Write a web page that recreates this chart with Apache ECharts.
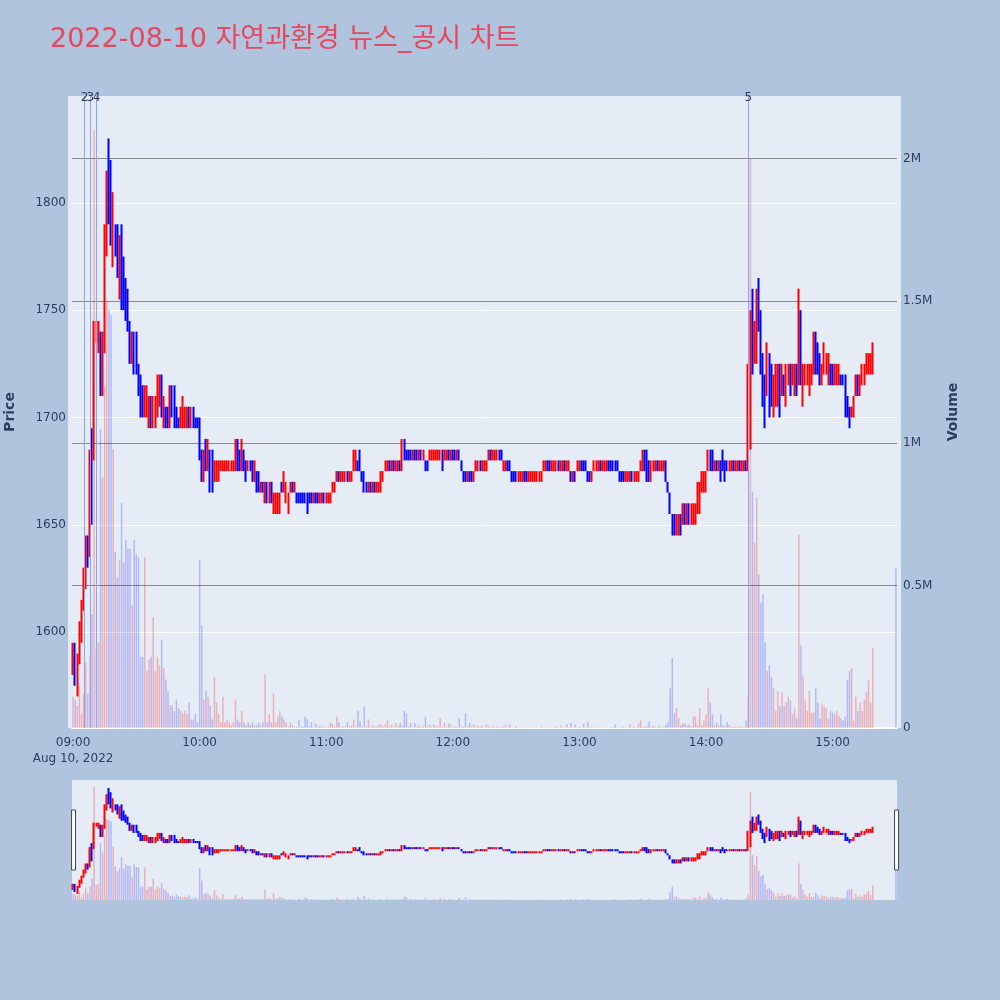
<!DOCTYPE html>
<html>
<head>
<meta charset="utf-8">
<script src="https://cdn.jsdelivr.net/npm/echarts@6/dist/echarts.min.js"></script>
<style>
html,body{margin:0;padding:0;background:#B0C4DE;}
#chart{width:1000px;height:1000px;}
</style>
</head>
<body>
<div id="chart"></div>
<script>
// ---- DATA (minutes after 09:00, 2022-08-10) ----
const minutes = [];
for (let i = 0; i < 380; i++) minutes.push(i);
minutes.push(390);

const opens = [
1585,1595,1575,1590,1600,1615,1625,1645,1640,1695,
1685,1740,1735,1740,1730,1735,1785,1820,1820,1780,
1790,1785,1765,1790,1770,1765,1755,1745,1730,1740,
1735,1725,1715,1710,1700,1705,1700,1705,1695,1700,
1705,1710,1715,1700,1705,1705,1700,1715,1710,1700,
1700,1695,1700,1700,1695,1705,1695,1705,1700,1700,
1700,1680,1670,1690,1680,1685,1680,1670,1675,1675,
1675,1675,1675,1675,1675,1675,1675,1680,1690,1685,
1675,1685,1680,1675,1680,1680,1670,1675,1670,1665,
1670,1660,1665,1660,1670,1655,1660,1660,1660,1670,
1665,1660,1660,1665,1670,1665,1665,1665,1665,1665,
1665,1665,1665,1665,1660,1665,1665,1660,1660,1665,
1660,1660,1660,1665,1665,1670,1675,1670,1670,1670,
1675,1670,1670,1675,1675,1680,1685,1675,1675,1670,
1665,1670,1665,1670,1665,1665,1665,1670,1675,1675,
1680,1675,1680,1675,1675,1680,1680,1690,1685,1685,
1685,1680,1685,1685,1680,1685,1680,1680,1680,1680,
1680,1680,1680,1680,1680,1685,1680,1680,1685,1680,
1685,1685,1680,1685,1680,1675,1675,1670,1675,1675,
1670,1675,1675,1680,1675,1675,1675,1680,1685,1680,
1680,1680,1685,1685,1675,1675,1680,1680,1675,1675,
1675,1670,1670,1670,1675,1675,1670,1670,1670,1670,
1670,1670,1670,1675,1675,1680,1680,1675,1675,1675,
1680,1675,1675,1680,1675,1675,1675,1670,1675,1675,
1675,1680,1680,1680,1675,1675,1670,1675,1675,1675,
1680,1675,1675,1675,1680,1680,1680,1680,1680,1675,
1675,1675,1670,1670,1670,1675,1670,1670,1670,1675,
1675,1685,1680,1680,1675,1675,1675,1680,1675,1675,
1675,1680,1670,1665,1655,1650,1645,1645,1655,1650,
1660,1650,1660,1650,1650,1650,1655,1660,1665,1665,
1670,1675,1685,1680,1675,1680,1675,1680,1685,1680,
1680,1675,1675,1680,1675,1675,1680,1675,1675,1680,
1675,1690,1760,1725,1725,1760,1750,1730,1720,1710,
1730,1720,1705,1710,1715,1725,1710,1720,1710,1715,
1725,1715,1715,1725,1715,1750,1715,1715,1715,1715,
1715,1720,1740,1735,1730,1715,1720,1720,1720,1725,
1725,1715,1715,1715,1720,1720,1720,1710,1705,1700,
1700,1710,1715,1710,1715,1720,1720,1725,1720,1720,
1730];
const closes = [
1590,1580,1590,1600,1615,1625,1640,1635,1680,1655,
1740,1745,1745,1715,1735,1785,1810,1790,1780,1805,
1780,1770,1785,1765,1760,1750,1745,1735,1740,1725,
1725,1710,1705,1705,1715,1710,1710,1695,1705,1710,
1715,1720,1705,1705,1695,1695,1710,1705,1700,1695,
1695,1705,1705,1705,1705,1700,1705,1695,1695,1695,
1680,1670,1680,1680,1685,1670,1670,1675,1680,1680,
1680,1680,1680,1680,1680,1680,1680,1685,1680,1675,
1685,1680,1675,1680,1675,1670,1675,1670,1665,1670,
1665,1665,1660,1665,1660,1665,1665,1665,1665,1665,
1670,1665,1665,1670,1665,1670,1660,1660,1660,1660,
1660,1660,1660,1660,1665,1660,1660,1665,1665,1660,
1665,1665,1665,1670,1670,1675,1670,1675,1675,1675,
1670,1675,1675,1680,1680,1675,1675,1670,1665,1665,
1670,1665,1670,1665,1670,1670,1675,1675,1680,1680,
1675,1680,1675,1680,1680,1675,1690,1680,1680,1680,
1680,1685,1680,1680,1685,1680,1685,1675,1675,1685,
1685,1685,1685,1685,1685,1680,1685,1685,1680,1685,
1680,1680,1685,1680,1675,1670,1670,1675,1670,1670,
1675,1680,1680,1675,1680,1680,1680,1685,1680,1685,
1685,1685,1680,1680,1680,1680,1675,1675,1670,1670,
1670,1675,1675,1675,1670,1670,1675,1675,1675,1675,
1675,1675,1675,1680,1680,1675,1675,1680,1680,1680,
1675,1680,1680,1675,1680,1680,1670,1675,1670,1680,
1680,1675,1675,1675,1670,1670,1675,1680,1680,1680,
1675,1680,1680,1680,1675,1675,1675,1675,1675,1670,
1670,1670,1675,1675,1675,1670,1675,1675,1675,1680,
1685,1680,1675,1670,1680,1680,1680,1675,1680,1680,
1680,1670,1665,1655,1645,1645,1655,1655,1650,1660,
1650,1660,1655,1660,1655,1660,1665,1665,1675,1675,
1675,1685,1675,1675,1680,1675,1680,1675,1675,1675,
1675,1680,1680,1675,1680,1680,1675,1680,1680,1675,
1725,1750,1725,1745,1755,1740,1725,1710,1705,1735,
1710,1710,1720,1725,1720,1710,1720,1710,1720,1725,
1715,1725,1720,1715,1750,1715,1725,1725,1725,1725,
1725,1740,1725,1725,1715,1725,1735,1730,1725,1715,
1715,1725,1725,1725,1715,1715,1710,1700,1700,1705,
1710,1715,1710,1720,1725,1725,1730,1730,1730,1730,
1730];
const lows = [
1580,1575,1570,1585,1595,1610,1620,1630,1635,1650,
1680,1735,1730,1710,1710,1730,1775,1790,1780,1770,
1775,1765,1755,1750,1750,1745,1740,1725,1725,1720,
1720,1710,1700,1700,1700,1700,1695,1695,1695,1695,
1700,1705,1700,1695,1695,1695,1695,1700,1695,1695,
1695,1695,1695,1695,1695,1695,1695,1695,1695,1695,
1680,1670,1670,1675,1675,1665,1665,1670,1670,1670,
1675,1675,1675,1675,1675,1675,1675,1675,1675,1675,
1675,1675,1670,1675,1675,1670,1670,1665,1665,1665,
1665,1660,1660,1660,1660,1655,1655,1655,1655,1665,
1665,1660,1655,1665,1665,1665,1660,1660,1660,1660,
1660,1655,1660,1660,1660,1660,1660,1660,1660,1660,
1660,1660,1660,1665,1665,1670,1670,1670,1670,1670,
1670,1670,1670,1675,1675,1675,1675,1670,1665,1665,
1665,1665,1665,1665,1665,1665,1665,1670,1675,1675,
1675,1675,1675,1675,1675,1675,1675,1680,1680,1680,
1680,1680,1680,1680,1680,1680,1680,1675,1675,1680,
1680,1680,1680,1680,1680,1675,1680,1680,1680,1680,
1680,1680,1680,1680,1675,1670,1670,1670,1670,1670,
1670,1675,1675,1675,1675,1675,1675,1680,1680,1680,
1680,1680,1680,1680,1675,1675,1675,1675,1670,1670,
1670,1670,1670,1670,1670,1670,1670,1670,1670,1670,
1670,1670,1670,1675,1675,1675,1675,1675,1675,1675,
1675,1675,1675,1675,1675,1675,1670,1670,1670,1675,
1675,1675,1675,1675,1670,1670,1670,1675,1675,1675,
1675,1675,1675,1675,1675,1675,1675,1675,1675,1670,
1670,1670,1670,1670,1670,1670,1670,1670,1670,1675,
1675,1675,1670,1670,1670,1675,1675,1675,1675,1675,
1675,1670,1665,1655,1645,1645,1645,1645,1645,1650,
1650,1650,1650,1650,1650,1650,1655,1655,1665,1665,
1665,1675,1675,1675,1675,1675,1675,1670,1675,1670,
1675,1675,1675,1675,1675,1675,1675,1675,1675,1675,
1675,1685,1720,1725,1725,1740,1720,1705,1695,1710,
1700,1705,1700,1705,1705,1700,1710,1710,1705,1715,
1710,1715,1710,1710,1715,1715,1705,1715,1715,1710,
1715,1720,1720,1720,1715,1715,1720,1720,1715,1715,
1715,1715,1715,1715,1715,1715,1700,1700,1695,1700,
1700,1710,1710,1710,1715,1715,1720,1720,1720,1720,
1730];
const highs = [
1595,1595,1590,1605,1615,1630,1645,1645,1685,1695,
1745,1745,1745,1740,1740,1790,1815,1830,1820,1805,
1790,1790,1785,1790,1775,1765,1760,1745,1740,1740,
1740,1725,1720,1715,1715,1715,1710,1710,1710,1710,
1720,1720,1720,1710,1705,1705,1715,1715,1715,1705,
1700,1705,1710,1705,1705,1705,1705,1705,1700,1700,
1700,1685,1685,1690,1690,1685,1685,1680,1680,1680,
1680,1680,1680,1680,1680,1680,1680,1690,1690,1685,
1690,1685,1680,1680,1680,1680,1680,1675,1675,1670,
1670,1670,1670,1670,1670,1665,1665,1665,1665,1670,
1675,1670,1665,1670,1670,1670,1665,1665,1665,1665,
1665,1665,1665,1665,1665,1665,1665,1665,1665,1665,
1665,1665,1665,1670,1670,1675,1675,1675,1675,1675,
1675,1675,1675,1685,1685,1680,1685,1675,1675,1670,
1670,1670,1670,1670,1670,1670,1675,1675,1680,1680,
1680,1680,1680,1680,1680,1680,1690,1690,1685,1685,
1685,1685,1685,1685,1685,1685,1685,1680,1680,1685,
1685,1685,1685,1685,1685,1685,1685,1685,1685,1685,
1685,1685,1685,1685,1680,1675,1675,1675,1675,1675,
1675,1680,1680,1680,1680,1680,1680,1685,1685,1685,
1685,1685,1685,1685,1680,1680,1680,1680,1675,1675,
1675,1675,1675,1675,1675,1675,1675,1675,1675,1675,
1675,1675,1675,1680,1680,1680,1680,1680,1680,1680,
1680,1680,1680,1680,1680,1680,1675,1675,1675,1680,
1680,1680,1680,1680,1675,1675,1675,1680,1680,1680,
1680,1680,1680,1680,1680,1680,1680,1680,1680,1675,
1675,1675,1675,1675,1675,1675,1675,1675,1675,1680,
1685,1685,1685,1680,1680,1680,1680,1680,1680,1680,
1680,1680,1670,1665,1655,1655,1655,1655,1655,1660,
1660,1660,1660,1660,1660,1660,1670,1670,1675,1675,
1675,1685,1685,1685,1680,1680,1680,1680,1685,1680,
1680,1680,1680,1680,1680,1680,1680,1680,1680,1680,
1725,1750,1760,1745,1760,1765,1750,1730,1720,1735,
1730,1725,1720,1725,1725,1725,1725,1720,1725,1725,
1725,1725,1725,1725,1760,1750,1725,1725,1725,1725,
1725,1740,1740,1735,1730,1725,1735,1730,1730,1725,
1725,1725,1725,1725,1720,1720,1720,1710,1705,1705,
1710,1720,1720,1720,1725,1725,1730,1730,1730,1735,
1730];
// volume in millions of shares
const volumes = [
0.11,0.10,0.08,0.15,0.05,0.12,0.23,0.12,0.25,0.40,
2.10,0.28,0.30,1.05,0.88,1.20,1.50,1.47,1.45,0.98,
0.62,0.53,0.59,0.79,0.58,0.66,0.63,0.63,0.43,0.66,
0.61,0.60,0.25,0.25,0.60,0.20,0.24,0.25,0.39,0.20,
0.25,0.22,0.31,0.21,0.17,0.13,0.08,0.08,0.06,0.10,
0.07,0.06,0.05,0.06,0.05,0.09,0.03,0.03,0.05,0.02,
0.59,0.36,0.10,0.13,0.11,0.08,0.03,0.18,0.09,0.05,
0.02,0.11,0.02,0.03,0.02,0.01,0.02,0.10,0.03,0.02,
0.06,0.02,0.01,0.02,0.01,0.02,0.01,0.01,0.02,0.01,
0.02,0.19,0.02,0.05,0.02,0.12,0.02,0.04,0.06,0.04,
0.03,0.02,0.005,0.02,0.01,0.005,0.004,0.03,0.005,0.004,
0.04,0.03,0.005,0.02,0.004,0.015,0.004,0.01,0.005,0.004,
0.005,0.004,0.02,0.015,0.005,0.04,0.02,0.005,0.004,0.005,
0.02,0.005,0.01,0.03,0.005,0.06,0.025,0.005,0.075,0.005,
0.03,0.004,0.01,0.005,0.004,0.012,0.012,0.005,0.012,0.027,
0.005,0.012,0.004,0.018,0.005,0.018,0.008,0.06,0.05,0.005,
0.018,0.004,0.018,0.005,0.01,0.004,0.005,0.04,0.005,0.012,
0.004,0.012,0.005,0.004,0.035,0.005,0.018,0.004,0.015,0.012,
0.004,0.005,0.004,0.035,0.005,0.004,0.05,0.005,0.018,0.004,
0.012,0.004,0.008,0.004,0.008,0.003,0.012,0.006,0.003,0.008,
0.003,0.006,0.003,0.003,0.004,0.012,0.003,0.012,0.003,0.002,
0.006,0.002,0.003,0.002,0.003,0.002,0.003,0.002,0.003,0.002,
0.003,0.002,0.006,0.002,0.003,0.002,0.003,0.002,0.003,0.006,
0.002,0.008,0.003,0.002,0.012,0.003,0.018,0.003,0.012,0.003,
0.004,0.003,0.015,0.003,0.023,0.003,0.004,0.003,0.002,0.003,
0.002,0.003,0.002,0.003,0.002,0.003,0.004,0.012,0.003,0.002,
0.003,0.004,0.002,0.003,0.012,0.003,0.004,0.003,0.015,0.027,
0.005,0.004,0.006,0.023,0.004,0.008,0.003,0.004,0.008,0.003,
0.004,0.012,0.02,0.14,0.246,0.053,0.07,0.035,0.01,0.018,
0.015,0.008,0.012,0.006,0.041,0.04,0.01,0.07,0.01,0.026,
0.047,0.14,0.09,0.047,0.01,0.02,0.008,0.047,0.01,0.006,
0.02,0.012,0.005,0.004,0.005,0.004,0.006,0.004,0.005,0.026,
0.11,2.00,0.83,0.65,0.81,0.54,0.44,0.47,0.30,0.20,
0.22,0.18,0.14,0.06,0.13,0.076,0.126,0.076,0.09,0.11,
0.097,0.047,0.069,0.033,0.68,0.29,0.18,0.097,0.06,0.13,
0.054,0.054,0.14,0.09,0.033,0.083,0.076,0.069,0.033,0.06,
0.054,0.047,0.06,0.04,0.033,0.026,0.04,0.17,0.20,0.21,
0.026,0.11,0.06,0.09,0.06,0.10,0.126,0.17,0.09,0.28,
0.56];

// disclosure / news markers (label, minutes after 09:00)
const newsLabels = ['2', '3', '4', '5'];
const newsMinutes = [5.5, 8.2, 11.2, 320.0];

// axis tick values
const priceTicks = [1600, 1650, 1700, 1750, 1800];
const volumeTicks = [0, 0.5, 1, 1.5, 2];
const timeTicks = [0, 60, 120, 180, 240, 300, 360];

[opens, closes, lows, highs, volumes].forEach((a, k) => {
  if (a.length !== minutes.length) throw new Error('length mismatch ' + k + ': ' + a.length + ' vs ' + minutes.length);
});

// ---- CHART ----
const FONT = '"DejaVu Sans", "Noto Sans CJK KR", sans-serif';
const TXT = '#2a3f5f';
const UP = '#ff0000', DOWN = '#0000ff';
const UP_V = 'rgba(255,0,0,0.25)', DOWN_V = 'rgba(0,0,255,0.22)';
const NEWS = '#8ea5ee';
const PLOT_BG = '#E5ECF6';
const PRICE_MIN = 1555.3, PRICE_MAX = 1849.8;
const VOL_MAX = 2.22;
const X_MIN = -0.5, X_MAX = 390.5;

const candleData = minutes.map((m, i) => [m, opens[i], closes[i], lows[i], highs[i]]);
const volData = minutes.map((m, i) => ({
  value: [m, volumes[i]],
  itemStyle: { color: closes[i] > opens[i] ? UP_V : DOWN_V }
}));

function timeLabel(v) {
  const h = 9 + Math.round(v / 60);
  const s = (h < 10 ? '0' : '') + h + ':00';
  return v === 0 ? s + '\nAug 10, 2022' : s;
}

const candleStyle = {
  color: UP, color0: DOWN, borderColor: UP, borderColor0: DOWN, borderWidth: 2
};

const chart = echarts.init(document.getElementById('chart'), null, { renderer: 'canvas' });
chart.setOption({
  animation: false,
  backgroundColor: '#B0C4DE',
  textStyle: { fontFamily: FONT },
  title: {
    text: '2022-08-10 자연과환경 뉴스_공시 차트',
    left: 50, top: 26, padding: 0,
    textStyle: { fontFamily: FONT, fontSize: 27, fontWeight: 'normal', color: '#e8475f' }
  },
  graphic: [
    // plot background panel (slightly wider than the data area, as in the original)
    { type: 'rect', z: -10, silent: true, shape: { x: 68, y: 96, width: 833, height: 632 }, style: { fill: PLOT_BG } }
  ],
  grid: [
    { left: 72, right: 103, top: 96, height: 632, show: true, backgroundColor: PLOT_BG, borderWidth: 0, containLabel: false, outerBoundsMode: 'none' },
    { left: 72, right: 103, top: 780, height: 120, show: true, backgroundColor: PLOT_BG, borderWidth: 0, containLabel: false, outerBoundsMode: 'none' }
  ],
  xAxis: [
    {
      type: 'value', gridIndex: 0, min: X_MIN, max: X_MAX,
      splitLine: { show: false },
      axisTick: { show: false, customValues: timeTicks },
      axisLine: { show: true, onZero: false, lineStyle: { color: '#ffffff', width: 2 } },
      axisLabel: {
        customValues: timeTicks, formatter: timeLabel,
        color: TXT, fontSize: 12, fontFamily: FONT, margin: 7, lineHeight: 16
      }
    },
    {
      type: 'value', gridIndex: 1, min: X_MIN, max: X_MAX, show: false,
      splitLine: { show: false }
    }
  ],
  yAxis: [
    {
      type: 'value', gridIndex: 0, position: 'left', min: PRICE_MIN, max: PRICE_MAX,
      name: 'Price', nameLocation: 'middle', nameGap: 55, nameRotate: 90,
      nameTextStyle: { color: TXT, fontSize: 14, fontWeight: 'bold', fontFamily: FONT },
      axisLine: { show: false },
      axisTick: { show: false, customValues: priceTicks },
      axisLabel: { customValues: priceTicks, color: TXT, fontSize: 12, fontFamily: FONT, margin: 6, formatter: v => String(v) },
      splitLine: { show: true, lineStyle: { color: '#ffffff', width: 1 } }
    },
    {
      type: 'value', gridIndex: 0, position: 'right', min: 0, max: VOL_MAX,
      name: 'Volume', nameLocation: 'middle', nameGap: 49, nameRotate: 90,
      nameTextStyle: { color: TXT, fontSize: 14, fontWeight: 'bold', fontFamily: FONT },
      axisLine: { show: false },
      axisTick: { show: false, customValues: volumeTicks },
      axisLabel: {
        customValues: volumeTicks, color: TXT, fontSize: 12, fontFamily: FONT, margin: 6,
        formatter: v => (v === 0 ? '0' : v + 'M')
      },
      splitLine: { show: true, lineStyle: { color: '#8a8a8a', width: 1 } }
    },
    { type: 'value', gridIndex: 1, min: PRICE_MIN, max: PRICE_MAX, show: false, splitLine: { show: false } },
    { type: 'value', gridIndex: 1, min: 0, max: VOL_MAX, show: false, splitLine: { show: false } }
  ],
  dataZoom: [{
    type: 'slider', xAxisIndex: 1, filterMode: 'none', start: 0, end: 100,
    left: 72, right: 103, top: 780, height: 120,
    backgroundColor: 'rgba(0,0,0,0)', borderColor: 'rgba(0,0,0,0)', fillerColor: 'rgba(0,0,0,0)',
    showDataShadow: false, showDetail: false, brushSelect: false, moveHandleSize: 0,
    handleIcon: 'path://M0,0H4V60H0Z', handleSize: '50%',
    handleStyle: { color: '#ffffff', borderColor: '#444444', borderWidth: 1 },
    emphasis: { handleStyle: { color: '#ffffff', borderColor: '#444444', borderWidth: 1 } }
  }],
  series: [
    {
      name: 'Volume', type: 'bar', xAxisIndex: 0, yAxisIndex: 1,
      data: volData, barWidth: 1.5, z: 2, silent: true
    },
    {
      name: 'Price', type: 'candlestick', xAxisIndex: 0, yAxisIndex: 0,
      data: candleData, encode: { x: 0, y: [1, 2, 3, 4] },
      barWidth: 1, itemStyle: candleStyle, z: 3, silent: true, large: false
    },
    {
      name: 'News', type: 'line', xAxisIndex: 0, yAxisIndex: 0, data: [], z: 4,
      color: NEWS,
      markLine: {
        silent: true, symbol: 'none', animation: false,
        lineStyle: { color: NEWS, width: 1, type: 'solid', opacity: 1 },
        emphasis: { disabled: true },
        label: { show: true, position: 'end', formatter: '{b}', color: TXT, fontSize: 12, fontFamily: FONT, distance: -8 },
        data: newsMinutes.map((m, i) => ({
          xAxis: m, name: newsLabels[i],
          lineStyle: { color: NEWS, width: 1, type: 'solid' }
        }))
      }
    },
    {
      name: 'VolumeMini', type: 'bar', xAxisIndex: 1, yAxisIndex: 3,
      data: volData, barWidth: 1.5, z: 2, silent: true
    },
    {
      name: 'PriceMini', type: 'candlestick', xAxisIndex: 1, yAxisIndex: 2,
      data: candleData, encode: { x: 0, y: [1, 2, 3, 4] },
      barWidth: 1, itemStyle: candleStyle, z: 3, silent: true, large: false
    }
  ]
});
</script>
</body>
</html>
